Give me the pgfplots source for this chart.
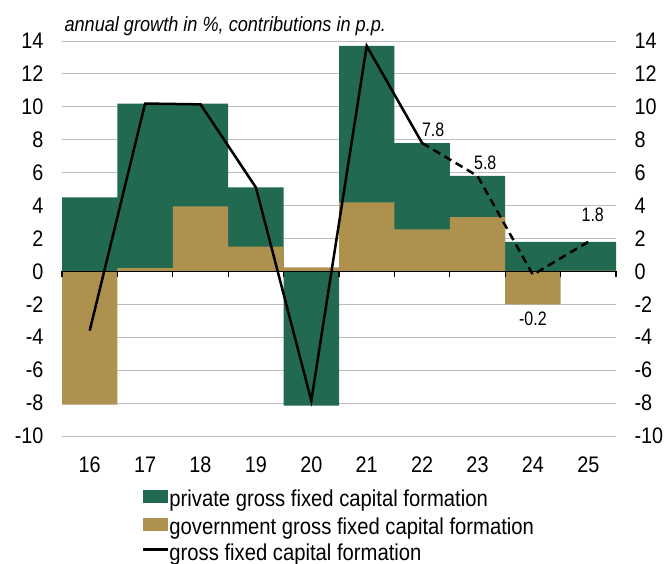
\documentclass[border=0pt]{standalone}
\usepackage{pgfplots}
\pgfplotsset{compat=1.18}
\usepackage{fontspec}
\setmainfont[FakeStretch=0.88]{Liberation Sans}
\newfontfamily\labfont[FakeStretch=0.82]{Liberation Sans}
\definecolor{priv}{HTML}{216A50}
\definecolor{gov}{HTML}{AE914F}
\pgfplotsset{
  barlegend/.style={legend image code/.code={\fill[##1] (0pt,-1pt) rectangle (25pt,12pt);}},
  linelegend/.style={legend image code/.code={\draw[##1] (0pt,5.5pt) -- (25pt,5.5pt);}},
}
\begin{document}
\begin{tikzpicture}[x=1pt,y=1pt]
\path[use as bounding box] (0,0) rectangle (670,563);
\begin{axis}[
  at={(62pt,127pt)}, anchor=south west,
  width=554pt, height=395pt, scale only axis,
  xmin=15.5, xmax=25.5, ymin=-10, ymax=14,
  xtick={16,...,25}, ytick={-10,-8,...,14},
  axis line style={draw=none},
  major tick length=0pt,
  ymajorgrids, grid style={black!26, line width=0.9pt},
  ticklabel style={font=\fontsize{22.5}{26}\selectfont},
  /pgf/number format/assume math mode=true,
  yticklabel style={xshift=-15pt},
  xticklabel style={yshift=-17.5pt},
  clip=false,
  legend cell align=left,
  legend style={at={(0.144,-0.135)}, anchor=north west, draw=none, fill=none,
    inner sep=0pt, row sep=6.5pt, column sep=0pt,
    nodes={inner sep=0pt, text height=14.5pt, text depth=4.5pt},
    font=\fontsize{23}{26}\selectfont},
]
\addplot[ybar, bar width=1, bar shift=0pt, fill=priv, draw=none, barlegend] coordinates {
 (16,4.5) (17,10.2) (18,10.2) (19,5.1) (20,-8.15) (21,13.7) (22,7.8) (23,5.8) (24,1.8) (25,1.8)};
\addlegendentry{private gross fixed capital formation}
\addplot[ybar, bar width=1, bar shift=0pt, fill=gov, draw=none, barlegend] coordinates {
 (16,-8.1) (17,0.2) (18,3.95) (19,1.5) (20,0.25) (21,4.2) (22,2.55) (23,3.3) (24,-2.0) (25,0.05)};
\addlegendentry{government gross fixed capital formation}
\draw[black, line width=1.3pt] (axis cs:15.5,0) -- (axis cs:25.5,0);
\pgfplotsinvokeforeach{15.5,16.5,...,25.5}{\draw[black, line width=1.1pt] (axis cs:#1,0) -- ([yshift=-6pt]axis cs:#1,0);}
\addplot[black, line width=2.5pt, linelegend] coordinates {
 (16,-3.6) (17,10.2) (18,10.15) (19,5.1) (20,-7.85) (21,13.7) (22,7.8)};
\addlegendentry{gross fixed capital formation}
\addplot[black, line width=2.5pt, dash pattern=on 8pt off 5pt, forget plot] coordinates {
 (22,7.8) (23,5.8) (24,-0.2) (25,1.8)};
\node[font=\labfont\fontsize{19.5}{22}\selectfont] at (axis cs:22.2,8.6) {7.8};
\node[font=\labfont\fontsize{19.5}{22}\selectfont] at (axis cs:23.14,6.6) {5.8};
\node[font=\labfont\fontsize{19.5}{22}\selectfont] at (axis cs:24.0,-2.9) {-0.2};
\node[font=\labfont\fontsize{19.5}{22}\selectfont] at (axis cs:25.08,3.45) {1.8};
\end{axis}
\begin{axis}[
  at={(62pt,127pt)}, anchor=south west,
  width=554pt, height=395pt, scale only axis,
  xmin=15.5, xmax=25.5, ymin=-10, ymax=14,
  ytick={-10,-8,...,14}, xtick=\empty,
  axis line style={draw=none},
  major tick length=0pt,
  yticklabel pos=right,
  ticklabel style={font=\fontsize{22.5}{26}\selectfont},
  /pgf/number format/assume math mode=true,
  yticklabel style={xshift=15pt},
]
\end{axis}
\node[anchor=base west, font=\itshape\fontsize{20.6}{24}\selectfont] at (61,531) {annual growth in \%, contributions in p.p.};
\end{tikzpicture}
\end{document}
